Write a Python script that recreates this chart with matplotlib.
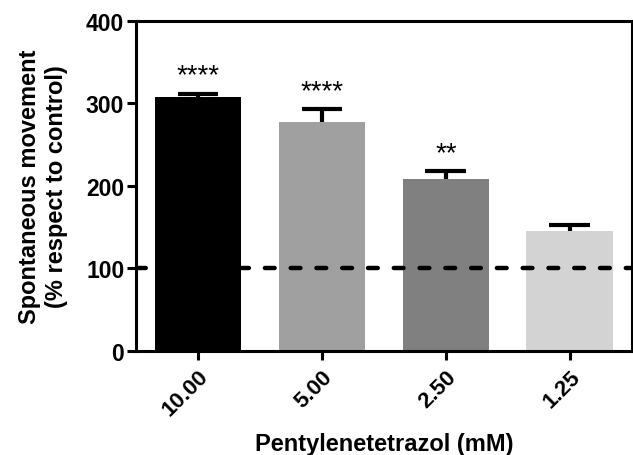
import matplotlib
matplotlib.use("Agg")
import matplotlib.pyplot as plt

categories = ["10.00", "5.00", "2.50", "1.25"]
means = [308, 277, 208, 145]
errors = [4, 16, 10, 8]
stars = ["****", "****", "**", ""]
colors = ["#000000", "#a0a0a0", "#808080", "#d3d3d3"]
ref_value = 100

plt.rcParams['font.family'] = ['Liberation Sans', 'DejaVu Sans']

fig = plt.figure(figsize=(6.33, 4.56), dpi=100)
ax = fig.add_axes([0.215, 0.228, 0.783, 0.724])

x = list(range(len(categories)))
ax.bar(x, means, width=0.70, color=colors, zorder=2)
tops = [m + e for m, e in zip(means, errors)]
ax.vlines(x, means, tops, color='black', lw=3, zorder=3)
ax.hlines(tops, [xi - 0.165 for xi in x], [xi + 0.165 for xi in x],
          color='black', lw=3, zorder=3)
ax.axhline(ref_value, color='black', lw=3.2, dashes=(2.2, 3.6), dash_capstyle='round', zorder=4)

for xi, t, s in zip(x, tops, stars):
    if s:
        ax.text(xi, t + 6, s, ha='center', va='bottom', fontsize=20)

ax.set_xlim(-0.5, 3.5)
ax.set_ylim(0, 400)
ax.set_yticks([0, 100, 200, 300, 400])
ax.set_xticks(x)
ax.set_xticklabels(categories, rotation=45, ha='right', rotation_mode='anchor',
                   fontsize=16, fontweight='bold')
for lab in ax.get_yticklabels():
    lab.set_fontsize(16.5)
    lab.set_fontweight('bold')

for sp in ax.spines.values():
    sp.set_linewidth(2.2)
ax.tick_params(axis='both', width=2.2, length=6.5, direction='out')
ax.tick_params(axis='x', pad=4)
ax.tick_params(axis='y', pad=2)

ax.set_xlabel("Pentylenetetrazol (mM)", fontsize=17, fontweight='bold', labelpad=9)
ax.set_ylabel("Spontaneous movement\n(% respect to control)", fontsize=17,
              fontweight='bold', labelpad=13)

fig.savefig("out.png", dpi=100)
